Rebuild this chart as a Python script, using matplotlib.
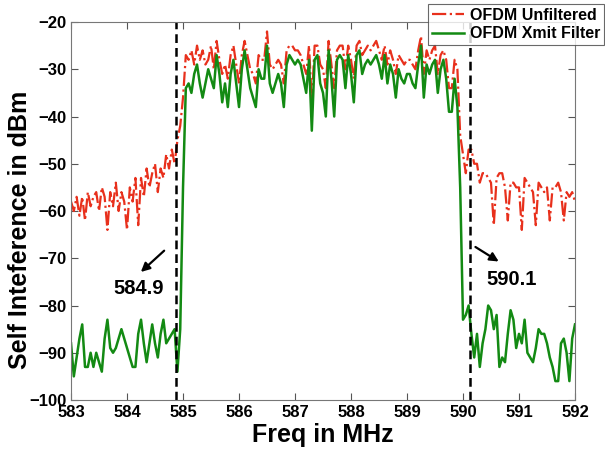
import numpy as np
import matplotlib
matplotlib.use("Agg")
import matplotlib.pyplot as plt

plt.rcParams['font.family'] = ['Liberation Sans', 'DejaVu Sans']

# frequency grid (MHz), 0.05 MHz step, 583..592
freq_start, freq_stop = 583.0, 592.0

unfiltered = [
    # 583.00 - 583.95
    -58, -60, -57, -61, -57, -62, -56, -59, -57, -56, -60, -55, -57, -64, -56, -59, -54, -60, -56, -58,
    # 584.00 - 584.95
    -64, -55, -58, -53, -63, -53, -57, -51, -55, -52, -50, -56, -51, -53, -48, -51, -47, -50, -45, -42,
    # 585.00 - 585.95
    -36, -27, -28, -26, -29, -25, -28, -26, -29, -28, -25, -30, -24, -28, -31, -29, -32, -27, -25, -29,
    # 586.00 - 586.95
    -33, -27, -24, -27, -30, -31, -33, -27, -28, -28, -22, -29, -30, -29, -28, -29, -33, -26, -25, -25,
    # 587.00 - 587.95
    -26, -26, -27, -29, -31, -25, -37, -25, -25, -29, -30, -34, -24, -29, -34, -26, -25, -25, -30, -25,
    # 588.00 - 588.95
    -28, -32, -25, -24, -27, -26, -25, -26, -25, -24, -26, -28, -25, -29, -26, -28, -31, -27, -28, -29,
    # 589.00 - 589.95
    -28, -28, -29, -30, -26, -23, -31, -26, -28, -26, -25, -31, -27, -26, -28, -34, -34, -28, -30, -44,
    # 590.00 - 590.95
    -48, -52, -47, -47, -50, -50, -54, -52, -52, -53, -54, -63, -53, -52, -52, -55, -62, -54, -54, -55,
    # 591.00 - 591.95
    -55, -64, -53, -54, -55, -56, -63, -54, -55, -56, -55, -62, -55, -55, -54, -56, -62, -56, -57, -56,
    # 592.00
    -58,
]

xmit_filter = [
    # 583.00 - 583.95
    -88, -95, -91, -87, -84, -93, -93, -90, -93, -90, -92, -94, -87, -83, -89, -90, -89, -87, -85, -87,
    # 584.00 - 584.95
    -89, -91, -93, -93, -86, -83, -88, -92, -88, -84, -88, -91, -86, -83, -88, -87, -86, -85, -94, -85,
    # 585.00 - 585.95
    -55, -34, -33, -35, -31, -29, -33, -36, -33, -30, -32, -34, -27, -31, -37, -33, -38, -31, -28, -33,
    # 586.00 - 586.95
    -38, -30, -26, -30, -34, -36, -38, -30, -32, -32, -25, -33, -35, -33, -31, -33, -38, -29, -27, -28,
    # 587.00 - 587.95
    -29, -28, -29, -32, -35, -28, -43, -28, -27, -33, -35, -40, -26, -32, -40, -28, -27, -28, -34, -27,
    # 588.00 - 588.95
    -31, -37, -27, -26, -31, -29, -28, -29, -28, -27, -29, -32, -27, -33, -29, -31, -36, -30, -32, -33,
    # 589.00 - 589.95
    -31, -31, -33, -34, -29, -25, -36, -29, -31, -29, -28, -35, -30, -28, -32, -39, -39, -32, -38, -55,
    # 590.00 - 590.95
    -83, -82, -80, -86, -91, -86, -93, -88, -85, -80, -81, -85, -82, -93, -91, -92, -86, -81, -83, -89,
    # 591.00 - 591.95
    -86, -88, -83, -90, -91, -92, -89, -85, -86, -86, -88, -91, -93, -96, -96, -88, -87, -90, -96, -87,
    # 592.00
    -84,
]

series_labels = ["OFDM Unfiltered", "OFDM Xmit Filter"]
band_edges = [584.87, 590.12]
edge_labels = ["584.9", "590.1"]
x_ticks = [583, 584, 585, 586, 587, 588, 589, 590, 591, 592]
y_ticks = [-100, -90, -80, -70, -60, -50, -40, -30, -20]

freq = np.linspace(freq_start, freq_stop, len(unfiltered))

fig = plt.figure(figsize=(6.05, 4.49), dpi=100)
ax = fig.add_axes([0.1174, 0.1091, 0.8330, 0.8419])

l1, = ax.plot(freq, unfiltered, color='#e8301c', linestyle='-.', linewidth=1.6,
              label=series_labels[0])
l2, = ax.plot(freq, xmit_filter, color='#138a13', linestyle='-', linewidth=1.8,
              label=series_labels[1])

for xe in band_edges:
    ax.axvline(xe, color='black', linestyle='--', linewidth=1.8, dashes=(3.5, 2))

ax.annotate('', xy=(584.21, -73.3), xytext=(584.70, -68.0),
            arrowprops=dict(arrowstyle='-|>', color='black', lw=1.6, mutation_scale=13))
ax.text(584.2, -76.3, edge_labels[0], ha='center', va='center', fontsize=14.5, fontweight='bold')
ax.annotate('', xy=(590.68, -71.0), xytext=(590.18, -67.3),
            arrowprops=dict(arrowstyle='-|>', color='black', lw=1.6, mutation_scale=13))
ax.text(590.87, -74.4, edge_labels[1], ha='center', va='center', fontsize=14.5, fontweight='bold')

ax.set_xlim(583, 592)
ax.set_ylim(-100, -20)
ax.set_xticks(x_ticks)
ax.set_yticks(y_ticks)
ax.tick_params(direction='in', top=True, right=True, length=5, width=0.8,
               labelsize=12, color='#555555')
for lab in ax.get_xticklabels() + ax.get_yticklabels():
    lab.set_fontweight('bold')
for sp in ax.spines.values():
    sp.set_color('#777777')
    sp.set_linewidth(0.8)

ax.set_xlabel('Freq in MHz', fontsize=18, fontweight='bold', labelpad=2)
ax.set_ylabel('Self Inteference in dBm', fontsize=18, fontweight='bold')
ax.yaxis.set_label_coords(-0.078, 0.45)

leg = fig.legend(handles=[l1, l2], loc='upper right', bbox_to_anchor=(0.999, 0.991),
                 prop={'weight': 'bold', 'size': 11.5}, frameon=True, fancybox=False,
                 borderpad=0.25, handlelength=2.0, handletextpad=0.4, labelspacing=0.2,
                 borderaxespad=0.0)
leg.get_frame().set_edgecolor('#444444')
leg.get_frame().set_linewidth(0.8)

fig.savefig('out.png', dpi=100)
